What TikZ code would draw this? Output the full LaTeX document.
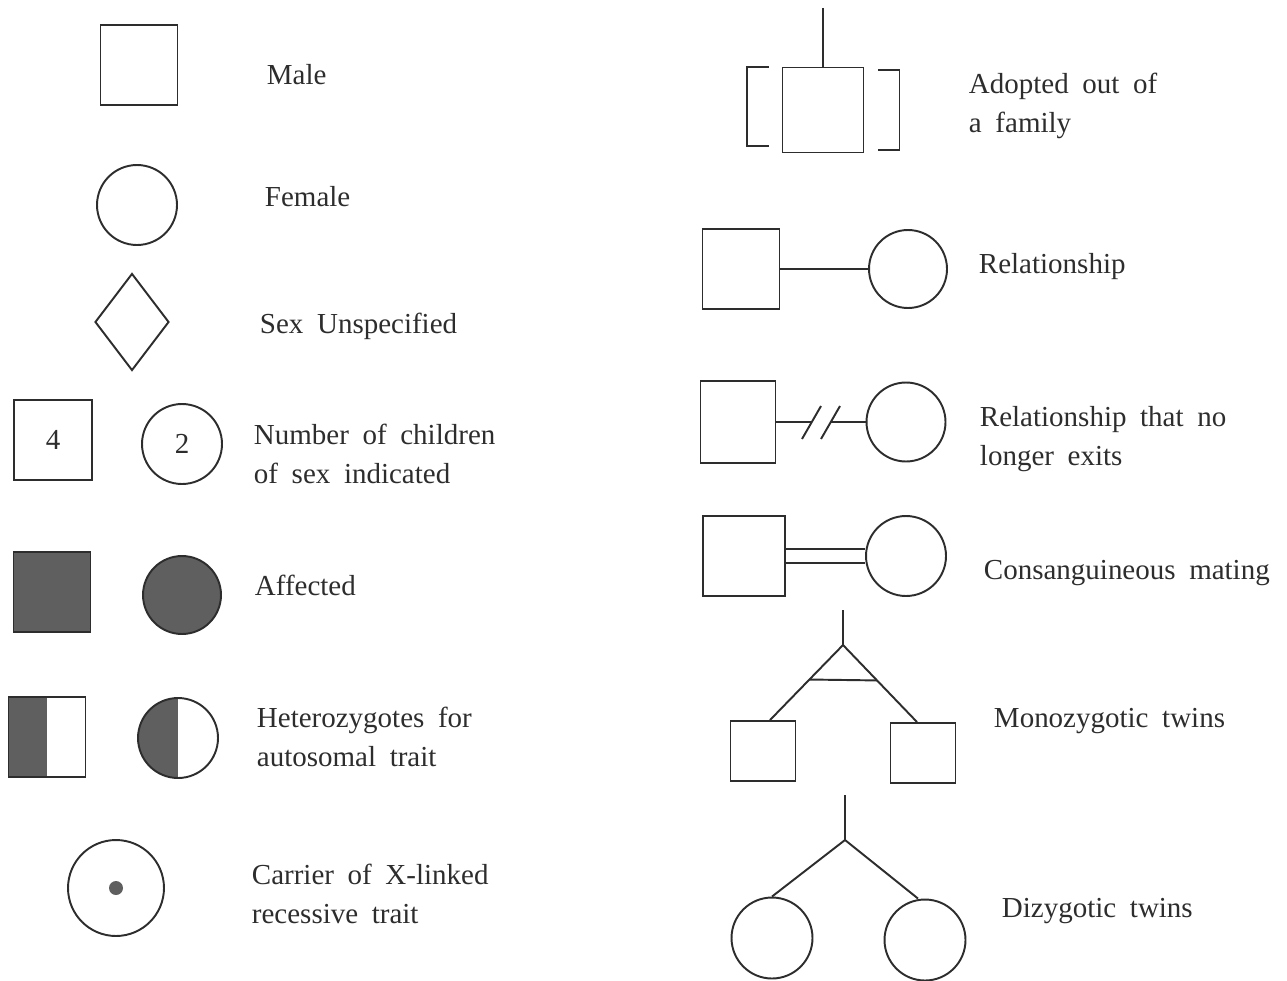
\documentclass[tikz,border=0pt]{standalone}
\usepackage{fontspec}
\setmainfont{Liberation Serif}
\usepackage{tikz}
\definecolor{inkgray}{RGB}{45,45,45}
\definecolor{affectgray}{RGB}{95,95,95}
\usetikzlibrary{positioning, shapes.geometric, calc}
\newcommand{\legendfont}{\fontsize{16.5}{22.2}\selectfont\spaceskip 0.47em\relax}
\tikzstyle{legend} = [anchor=base west, inner sep=0pt]
\tikzstyle{legendtwo} = [anchor=west, align=left, inner sep=0pt]

\begin{document}
\begin{tikzpicture}[x=0.02cm, y=-0.02cm, color=inkgray, line width=1.1pt]
                    \tikzstyle{every node}=[font=\legendfont]
                    \tikzstyle{male} = [rectangle, draw, inner sep=0pt,
                    minimum width=1.54cm, minimum height=1.6cm]
                    \tikzstyle{female} = [circle, draw, inner sep=0pt, minimum size=1.6cm]
                    \tikzstyle{unknown} = [diamond, draw, inner sep=0pt,
                    minimum width=1.48cm, minimum height=1.94cm]
                    \tikzstyle{affected} = [fill=affectgray]
                    \tikzstyle{halfaff} = [path picture={\fill[affectgray]
                    (path picture bounding box.south west) rectangle (path picture bounding box.north);}]

    \useasboundingbox (0,0) rectangle (1287,980);

    % left column
    \node[male](m1) at (139,65) {};
    \node[legend](tm1) at (266,85) {Male};

    \node[female](f1) at (137,205) {};
    \node[legend](tf1) at (264,206) {Female};

    \node[unknown](u1) at (132,322) {};
    \node[legend](tu1) at (259,333) {Sex Unspecified};

    \node[male, minimum width=1.56cm](n1) at (53,440) {4};
    \node[female](n2) at (182,444) {2};
    \node[legendtwo](tn) at (253,454) {Number of children\\of sex indicated};

    \node[male, affected](a1) at (52,592) {};
    \node[female, affected, minimum size=1.56cm](a2) at (182,595) {};
    \node[legend](ta) at (254,595) {Affected};

    \node[male, halfaff](h1) at (47,737) {};
    \node[female, halfaff](h2) at (178,738) {};
    \node[legendtwo](th) at (256,737) {Heterozygotes for\\autosomal trait};

    \node[female, minimum size=1.92cm](c1) at (116,888) {};
    \fill[affectgray] (c1.center) circle[radius=0.14cm];
    \node[legendtwo](tc) at (251,894) {Carrier of X-linked\\recessive trait};

    % right column
    \coordinate (ad0) at (823,8);
    \node[male, minimum width=1.62cm, minimum height=1.7cm](ad1) at (823,110) {};
    \draw (ad0) -- (ad1.north);
    \draw ([shift={(-13,0)}]ad1.north west) -- ++(-22,0) -- ++(0,79) -- ++(22,0);
    \draw ([shift={(14,3)}]ad1.north east) -- ++(21,0) -- ++(0,80) -- ++(-21,0);
    \node[legendtwo](tad) at (968,106) {Adopted out of\\a family};

    \node[male](r1) at (741,269) {};
    \node[female, minimum size=1.56cm](r2) at (908,269) {};
    \draw (r1) -- (r2);
    \node[legend](tr) at (978,273) {Relationship};

    \node[male, minimum width=1.5cm, minimum height=1.64cm](b1) at (738,422) {};
    \node[female, minimum size=1.58cm](b2) at (906,422) {};
    \coordinate (bs1) at (811,422);
    \coordinate (bs2) at (830,422);
    \draw (b1) -- (bs1);
    \draw (bs2) -- (b2);
    \draw ([shift={(-9,17)}]bs1) -- ([shift={(10,-16)}]bs1);
    \draw ([shift={(-9,17)}]bs2) -- ([shift={(10,-16)}]bs2);
    \node[legendtwo](tb) at (979,439) {Relationship that no\\longer exits};

    \node[male, minimum width=1.64cm](k1) at (744,556) {};
    \node[female](k2) at (906,556) {};
    \draw ([yshift=0.14cm]k1.east) -- ([yshift=0.14cm]k2.west);
    \draw ([yshift=-0.14cm]k1.east) -- ([yshift=-0.14cm]k2.west);
    \node[legend](tk) at (983,579) {Consanguineous mating};

    % twins
    \coordinate (mz0) at (843,610);
    \coordinate (mz) at (843,645);
    \node[male, minimum width=1.3cm, minimum height=1.2cm](mz1) at (763,751) {};
    \node[male, minimum width=1.3cm, minimum height=1.2cm](mz2) at (923,753) {};
    \draw (mz0) -- (mz);
    \draw (mz) -- ([xshift=0.14cm]mz1.north);
    \draw (mz) -- ([xshift=-0.12cm]mz2.north);
    \draw ($(mz)!0.46!([xshift=0.14cm]mz1.north)$) -- ($(mz)!0.46!([xshift=-0.12cm]mz2.north)$);
    \node[legend](tmz) at (993,727) {Monozygotic twins};

    \coordinate (dz0) at (845,795);
    \coordinate (dz) at (845,840);
    \node[female, minimum size=1.62cm](dz1) at (772,938) {};
    \node[female, minimum size=1.62cm](dz2) at (925,940) {};
    \draw (dz0) -- (dz);
    \draw (dz) -- (dz1.north);
    \draw (dz) -- ([xshift=-0.14cm]dz2.north);
    \node[legend](tdz) at (1001,917) {Dizygotic twins};

\end{tikzpicture}
\end{document}
